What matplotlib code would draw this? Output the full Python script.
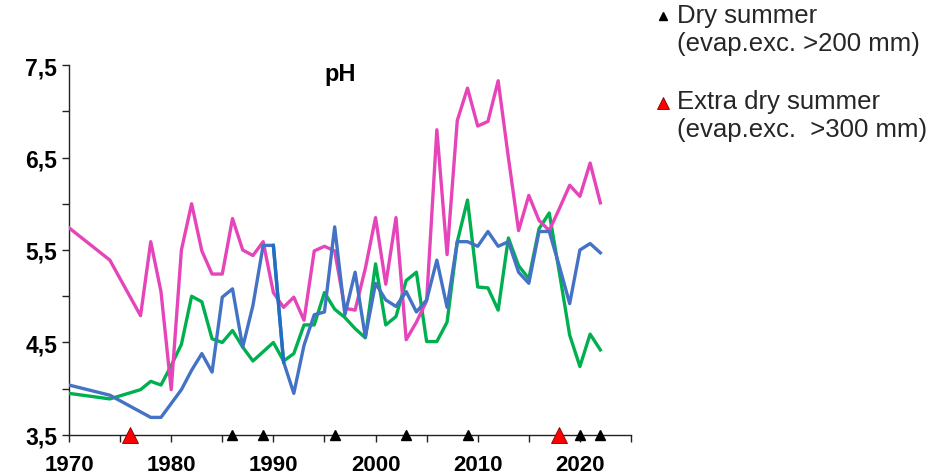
import matplotlib
matplotlib.use("Agg")
import matplotlib.pyplot as plt
from matplotlib.lines import Line2D
from matplotlib.ticker import MultipleLocator

plt.rcParams['font.family'] = ['Liberation Sans', 'DejaVu Sans']

# yearly pH values
years = [1970, 1974, 1977, 1978, 1979, 1980, 1981, 1982, 1983, 1984, 1985, 1986,
         1987, 1988, 1989, 1990, 1991, 1992, 1993, 1994, 1995, 1996, 1997, 1998,
         1999, 2000, 2001, 2002, 2003, 2004, 2005, 2006, 2007, 2008, 2009, 2010,
         2011, 2012, 2013, 2014, 2015, 2016, 2017, 2018, 2019, 2020, 2021, 2022]

ph_pink = [5.74, 5.39, 4.79, 5.59, 5.05, 3.99, 5.50, 6.00, 5.49, 5.24, 5.24, 5.84,
           5.50, 5.44, 5.59, 5.04, 4.88, 4.99, 4.74, 5.49, 5.54, 5.49, 4.87, 4.85,
           5.30, 5.85, 5.13, 5.85, 4.53, 4.72, 4.95, 6.80, 5.45, 6.90, 7.25, 6.84,
           6.89, 7.33, 6.50, 5.71, 6.09, 5.82, 5.71, 5.95, 6.20, 6.08, 6.44, 6.01]

ph_green = [3.95, 3.89, 3.99, 4.08, 4.04, 4.25, 4.48, 5.00, 4.94, 4.54, 4.50, 4.63,
            4.45, 4.30, 4.40, 4.50, 4.30, 4.38, 4.69, 4.69, 5.04, 4.86, 4.77, 4.65,
            4.55, 5.35, 4.69, 4.78, 5.17, 5.26, 4.51, 4.51, 4.72, 5.59, 6.04, 5.10,
            5.09, 4.85, 5.63, 5.33, 5.19, 5.73, 5.90, 5.25, 4.58, 4.24, 4.59, 4.42]

ph_blue = [4.04, 3.93, 3.75, 3.69, 3.69, 3.84, 3.99, 4.20, 4.38, 4.18, 4.99, 5.08,
           4.45, 4.90, 5.55, 5.55, 4.29, 3.95, 4.47, 4.80, 4.83, 5.75, 4.80, 5.26,
           4.56, 5.14, 4.96, 4.89, 5.05, 4.83, 4.96, 5.39, 4.88, 5.59, 5.59, 5.54,
           5.70, 5.54, 5.59, 5.26, 5.14, 5.70, 5.70, 5.32, 4.92, 5.50, 5.57, 5.47]

dry_years = [1986, 1989, 1996, 2003, 2009, 2020, 2022]
extra_dry_years = [1976, 2018]

ytick_values = [3.5, 4.5, 5.5, 6.5, 7.5]
ytick_labels = ["3,5", "4,5", "5,5", "6,5", "7,5"]
xtick_values = [1970, 1980, 1990, 2000, 2010, 2020]

PINK = '#E545B9'
GREEN = '#00B050'
BLUE = '#4472C4'
DARK_BLUE = '#1F6FC2'

fig = plt.figure(figsize=(9.48, 4.77), dpi=100)
ax = fig.add_axes([0.0728, 0.086, 0.5928, 0.7756])

ax.plot(years, ph_green, color=GREEN, lw=2.4, zorder=3)
ax.plot(years, ph_pink, color=PINK, lw=2.4, zorder=4)
ax.plot(years, ph_blue, color=BLUE, lw=2.4, zorder=5)
# the 1990-1991 stretch of the blue series is drawn a shade darker
i90 = years.index(1990)
ax.plot(years[i90:i90 + 2], ph_blue[i90:i90 + 2], color=DARK_BLUE, lw=2.4, zorder=5)

# summer markers sitting on the x axis
ax.plot(dry_years, [3.5] * len(dry_years), ls='none', marker='^', ms=7,
        color='black', clip_on=False, zorder=6)
ax.plot(extra_dry_years, [3.5] * len(extra_dry_years), ls='none', marker='^', ms=11.5,
        markerfacecolor='#FF0000', markeredgecolor='#7F0000', markeredgewidth=0.6,
        clip_on=False, zorder=7)

ax.set_xlim(1970, 2025)
ax.set_ylim(3.5, 7.5)
ax.set_xticks(xtick_values)
ax.xaxis.set_minor_locator(MultipleLocator(5))
ax.set_yticks(ytick_values)
ax.set_yticklabels(ytick_labels)
ax.yaxis.set_minor_locator(MultipleLocator(0.5))

for spine in ['top', 'right']:
    ax.spines[spine].set_visible(False)
for spine in ['left', 'bottom']:
    ax.spines[spine].set_linewidth(1.0)
    ax.spines[spine].set_color('#222222')

ax.tick_params(which='both', direction='out', length=5, width=1.0, color='#222222')
ax.tick_params(axis='y', pad=3.5, labelsize=16.5)
ax.tick_params(axis='x', pad=9, labelsize=16)
for label in ax.get_xticklabels() + ax.get_yticklabels():
    label.set_fontweight('bold')

ax.text(0.482, 0.978, "pH", transform=ax.transAxes, ha='center', va='center',
        fontsize=17, fontweight='bold')

# legend drawn by hand at the top right
fig.add_artist(Line2D([663 / 948], [1 - 17 / 477], transform=fig.transFigure,
                      marker='^', ms=6, color='black', ls='none'))
fig.text(677 / 948, 1 - 4 / 477, "Dry summer\n(evap.exc. >200 mm)", ha='left', va='top',
         fontsize=18.5, color='#262626', linespacing=1.2)
fig.add_artist(Line2D([663 / 948], [1 - 104 / 477], transform=fig.transFigure,
                      marker='^', ms=9, markerfacecolor='#FF0000',
                      markeredgecolor='#7F0000', markeredgewidth=0.6, ls='none'))
fig.text(677 / 948, 1 - 90 / 477, "Extra dry summer\n(evap.exc.  >300 mm)", ha='left',
         va='top', fontsize=18.5, color='#262626', linespacing=1.2)

fig.savefig("out.png", dpi=100)
